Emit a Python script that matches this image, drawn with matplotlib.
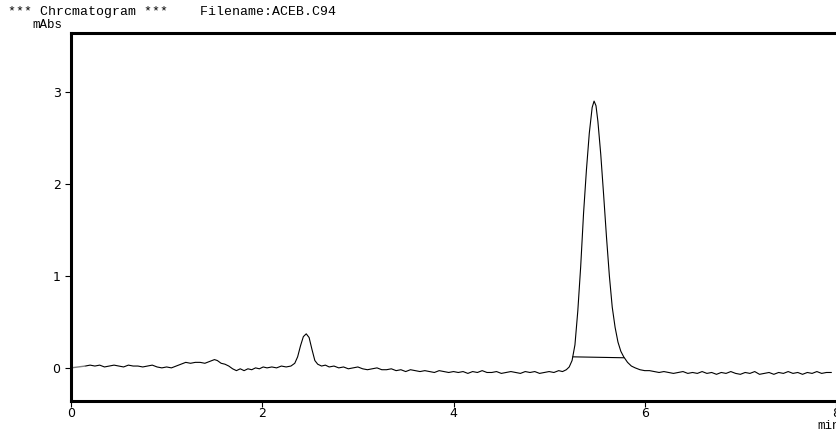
import matplotlib.pyplot as plt

# chromatogram trace (min, mAbs)
tempo = [0.15, 0.20, 0.25, 0.30, 0.35, 0.40, 0.45, 0.50, 0.55, 0.60, 0.65, 0.70,
         0.75, 0.80, 0.85, 0.90, 0.95, 1.00, 1.05, 1.10, 1.15, 1.20, 1.25, 1.30,
         1.35, 1.40, 1.45, 1.50, 1.53, 1.57, 1.61, 1.65, 1.69, 1.73, 1.77, 1.81,
         1.85, 1.89, 1.93, 1.97, 2.01, 2.05, 2.10, 2.15, 2.20, 2.25, 2.30, 2.34,
         2.37, 2.40, 2.43, 2.46, 2.49, 2.52, 2.55, 2.58, 2.62, 2.66, 2.70, 2.75,
         2.80, 2.85, 2.90, 2.95, 3.00, 3.05, 3.10, 3.15, 3.20, 3.25, 3.30, 3.35,
         3.40, 3.45, 3.50, 3.55, 3.60, 3.65, 3.70, 3.75, 3.80, 3.85, 3.90, 3.95,
         4.00, 4.05, 4.10, 4.15, 4.20, 4.25, 4.30, 4.35, 4.40, 4.45, 4.50, 4.55,
         4.60, 4.65, 4.70, 4.75, 4.80, 4.85, 4.90, 4.95, 5.00, 5.05, 5.10, 5.14,
         5.18, 5.21, 5.24, 5.27, 5.30, 5.33, 5.36, 5.39, 5.42, 5.45, 5.47, 5.49,
         5.51, 5.54, 5.57, 5.60, 5.63, 5.66, 5.69, 5.72, 5.75, 5.78, 5.82, 5.86,
         5.90, 5.95, 6.00, 6.05, 6.10, 6.15, 6.20, 6.25, 6.30, 6.35, 6.40, 6.45,
         6.50, 6.55, 6.60, 6.65, 6.70, 6.75, 6.80, 6.85, 6.90, 6.95, 7.00, 7.05,
         7.10, 7.15, 7.20, 7.25, 7.30, 7.35, 7.40, 7.45, 7.50, 7.55, 7.60, 7.65,
         7.70, 7.75, 7.80, 7.85, 7.90, 7.95]
mabs = [0.02, 0.03, 0.02, 0.03, 0.01, 0.02, 0.03, 0.02, 0.01, 0.03, 0.02, 0.02,
        0.01, 0.02, 0.03, 0.01, 0.00, 0.01, 0.00, 0.02, 0.04, 0.06, 0.05, 0.06,
        0.06, 0.05, 0.07, 0.09, 0.08, 0.05, 0.04, 0.02, -0.01, -0.03, -0.01, -0.03,
        -0.01, -0.02, 0.00, -0.01, 0.01, 0.00, 0.01, 0.00, 0.02, 0.01, 0.02, 0.05,
        0.12, 0.24, 0.34, 0.37, 0.33, 0.20, 0.08, 0.04, 0.02, 0.03, 0.01, 0.02,
        0.00, 0.01, -0.01, 0.00, 0.01, -0.01, -0.02, -0.01, 0.00, -0.02, -0.02, -0.01,
        -0.03, -0.02, -0.04, -0.02, -0.03, -0.04, -0.03, -0.04, -0.05, -0.03, -0.04, -0.05,
        -0.04, -0.05, -0.04, -0.06, -0.04, -0.05, -0.03, -0.05, -0.05, -0.04, -0.06, -0.05,
        -0.04, -0.05, -0.06, -0.04, -0.05, -0.04, -0.06, -0.05, -0.04, -0.05, -0.03, -0.04,
        -0.02, 0.01, 0.08, 0.25, 0.62, 1.10, 1.68, 2.15, 2.55, 2.83, 2.90, 2.85,
        2.68, 2.32, 1.88, 1.42, 1.00, 0.66, 0.44, 0.28, 0.18, 0.12, 0.06, 0.02,
        0.00, -0.02, -0.03, -0.03, -0.04, -0.05, -0.04, -0.05, -0.06, -0.05, -0.04, -0.06,
        -0.05, -0.06, -0.04, -0.06, -0.05, -0.07, -0.05, -0.06, -0.04, -0.06, -0.07, -0.05,
        -0.06, -0.04, -0.07, -0.06, -0.05, -0.07, -0.05, -0.06, -0.04, -0.06, -0.05, -0.07,
        -0.05, -0.06, -0.04, -0.06, -0.05, -0.05]

# integration baseline under the main peak
base_t = [5.25, 5.78]
base_y = [0.12, 0.11]

xticks = [0, 2, 4, 6, 8]
yticks = [0, 1, 2, 3]

fig = plt.figure(figsize=(8.36, 4.32), dpi=100)
ax = fig.add_axes([71 / 836, 31 / 432, (836 - 71) / 836, 368 / 432])

ax.plot(tempo, mabs, color='black', linewidth=0.8)
ax.plot(base_t, base_y, color='black', linewidth=0.8)
ax.plot([0, 0.15], [0, 0.02], color='gray', linewidth=1.0)

ax.set_xlim(0, 7.95)
ax.set_ylim(-0.36, 3.64)
ax.set_xticks(xticks)
ax.set_yticks(yticks)
ax.tick_params(axis='both', direction='out', length=4, width=0.8,
               labelsize=9, colors='black')
ax.tick_params(axis='x', pad=0)

for s in ['left', 'bottom', 'top']:
    ax.spines[s].set_linewidth(2.2)
ax.spines['right'].set_visible(False)

fig.text(8 / 836, 1 - 12 / 432, '*** Chrcmatogram ***    Filename:ACEB.C94',
         family='Liberation Mono', fontsize=9.5, va='center', ha='left')
fig.text(32 / 836, 1 - 25 / 432, 'mAbs', family='Liberation Mono',
         fontsize=9, va='center', ha='left')
fig.text(817 / 836, 1 - 426 / 432, 'min', family='Liberation Mono',
         fontsize=9, va='center', ha='left')

plt.savefig('out.png', dpi=100)
